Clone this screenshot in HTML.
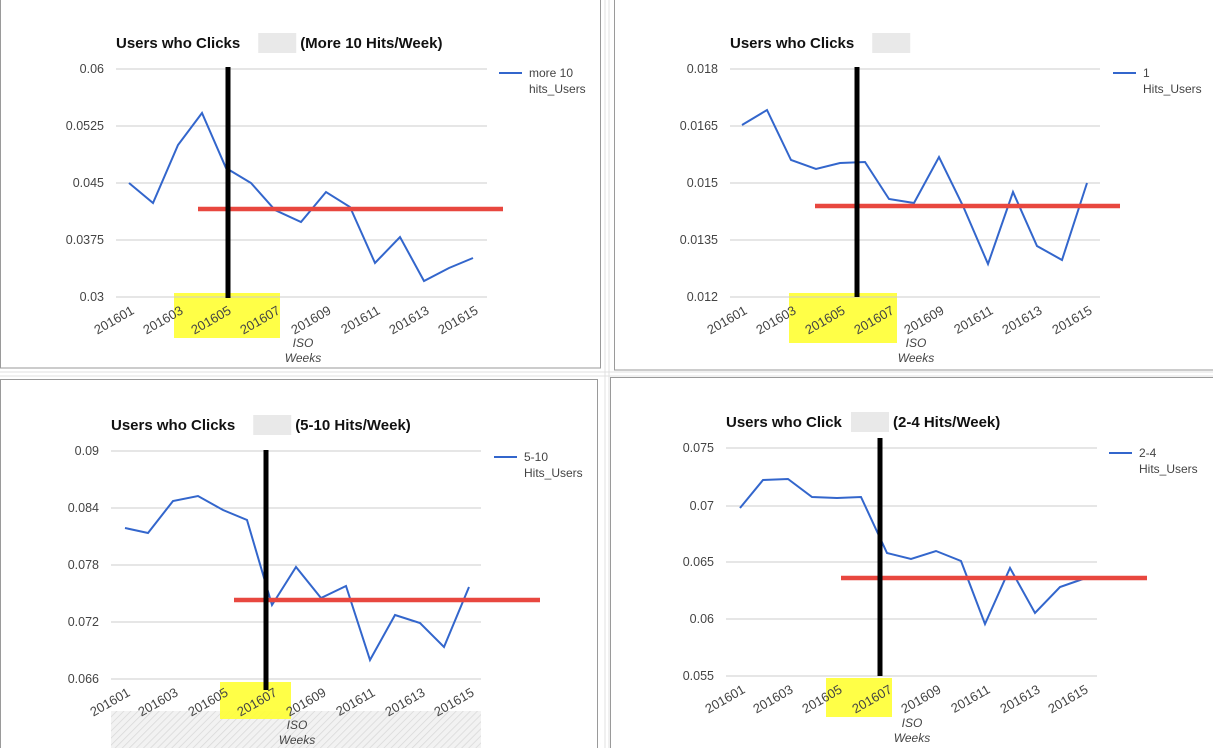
<!DOCTYPE html>
<html><head><meta charset="utf-8"><style>
html,body{margin:0;padding:0;background:#fff;}
svg{display:block;font-family:"Liberation Sans",Arial,sans-serif;}
</style></head><body>
<svg id="s" width="1213" height="748" viewBox="0 0 1213 748" xmlns="http://www.w3.org/2000/svg">
<defs>
<pattern id="hatch" width="5" height="5" patternUnits="userSpaceOnUse" patternTransform="rotate(45)">
<rect width="5" height="5" fill="#f2f2f2"/><line x1="0" y1="0" x2="0" y2="5" stroke="#d8d8d8" stroke-width="1.5"/>
</pattern>
</defs>
<rect width="1213" height="748" fill="#fff"/>
<g stroke="#e0e0e0" stroke-width="1">
<line x1="0" y1="372" x2="1213" y2="372"/><line x1="0" y1="376" x2="1213" y2="376"/>
<line x1="605" y1="0" x2="605" y2="748"/><line x1="609" y1="0" x2="609" y2="748"/>
</g>
<rect x="0.5" y="-1" width="600" height="369" fill="#fff" stroke="#9a9a9a"/>
<rect x="614.5" y="-1" width="600" height="371" fill="#fff" stroke="#9a9a9a"/>
<rect x="0.5" y="379.5" width="597" height="370" fill="#fff" stroke="#9a9a9a"/>
<rect x="610.5" y="377.5" width="604" height="372" fill="#fff" stroke="#9a9a9a"/>
<g id="g"></g>
</svg>
<script>
var C=[
{t:"Users who Clicks ",t2:"(More 10 Hits/Week)",tx:116,ty:48,gx0:116,gx1:487,gy:[69,126,183,240,297],yl:["0.06","0.0525","0.045","0.0375","0.03"],
 px:[129,153,178,202,226,251,275,301,326,350,375,400,424,449,473],py:[183,203,145,113,168,183,210,222,192,207,263,237,281,268,258],
 red:[198,503,209],blk:[228,67,298],yel:[174,293,106,45],leg:[499,73,"more 10","hits_Users"],iso:[303,347]},
{t:"Users who Clicks ",t2:"",tx:730,ty:48,gx0:730,gx1:1100,gy:[69,126,183,240,297],yl:["0.018","0.0165","0.015","0.0135","0.012"],
 px:[742,767,791,816,840,865,889,914,939,963,988,1013,1037,1062,1087],py:[125,110,160,169,163,162,199,203,157,206,264,192,246,260,183],
 red:[815,1120,206],blk:[857,67,297],yel:[789,293,108,50],leg:[1113,73,"1","Hits_Users"],iso:[916,347]},
{t:"Users who Clicks ",t2:"(5-10 Hits/Week)",tx:111,ty:430,gx0:111,gx1:481,gy:[451,508,565,622,679],yl:["0.09","0.084","0.078","0.072","0.066"],
 px:[125,148,173,198,223,247,272,296,321,346,370,395,420,444,469],py:[528,533,501,496,510,520,605,567,598,586,660,615,623,647,587],
 red:[234,540,600],blk:[266,450,690],yel:[220,682,71,37],leg:[494,457,"5-10","Hits_Users"],iso:[297,729],hatch:1},
{t:"Users who Click",t2:"(2-4 Hits/Week)",tx:726,ty:427,gx0:726,gx1:1097,gy:[448,506,562,619,676],yl:["0.075","0.07","0.065","0.06","0.055"],
 px:[740,763,788,812,837,861,887,911,936,961,985,1010,1035,1060,1083],py:[508,480,479,497,498,497,553,559,551,561,624,568,613,587,579],
 red:[841,1147,578],blk:[880,438,676],yel:[826,678,66,39],leg:[1109,453,"2-4","Hits_Users"],iso:[912,727]}
];
var h="";
C.forEach(function(c){
 var base=c.gy[4];
 if(c.hatch) h+='<rect x="'+c.gx0+'" y="711" width="'+(c.gx1-c.gx0)+'" height="40" fill="url(#hatch)"/>';
 h+='<rect x="'+c.yel[0]+'" y="'+c.yel[1]+'" width="'+c.yel[2]+'" height="'+c.yel[3]+'" fill="#ffff33" opacity="0.9"/>';
 c.gy.forEach(function(y,i){
  h+='<line x1="'+c.gx0+'" y1="'+y+'" x2="'+c.gx1+'" y2="'+y+'" stroke="#cccccc" stroke-width="1"/>';
  h+='<text x="'+(c.gx0-12)+'" y="'+(y+4)+'" text-anchor="end" font-size="12.5" fill="#444">'+c.yl[i]+'</text>';
 });
 var tw=c.t.length*8.6;
 h+='<text x="'+c.tx+'" y="'+c.ty+'" font-size="15" font-weight="bold" fill="#111">'+c.t+'</text>';
 h+='<rect x="'+(c.tx+tw-4)+'" y="'+(c.ty-15)+'" width="38" height="20" fill="#d4d4d4" opacity="0.5"/>';
 if(c.t2) h+='<text x="'+(c.tx+tw+38)+'" y="'+c.ty+'" font-size="15" font-weight="bold" fill="#111">'+c.t2+'</text>';
 var pts=c.px.map(function(x,i){return x+","+c.py[i];}).join(" ");
 h+='<polyline points="'+pts+'" fill="none" stroke="#3366cc" stroke-width="2"/>';
 for(var i=0;i<15;i+=2){
  var x=c.px[i]+6, y=base+16;
  h+='<text transform="translate('+x+','+y+') rotate(-30)" text-anchor="end" font-size="13" fill="#444">'+(201601+i)+'</text>';
 }
 h+='<text x="'+c.iso[0]+'" y="'+c.iso[1]+'" text-anchor="middle" font-size="12" font-style="italic" fill="#444">ISO</text>';
 h+='<text x="'+c.iso[0]+'" y="'+(c.iso[1]+15)+'" text-anchor="middle" font-size="12" font-style="italic" fill="#444">Weeks</text>';
 h+='<line x1="'+c.leg[0]+'" y1="'+c.leg[1]+'" x2="'+(c.leg[0]+23)+'" y2="'+c.leg[1]+'" stroke="#3366cc" stroke-width="2"/>';
 h+='<text x="'+(c.leg[0]+30)+'" y="'+(c.leg[1]+4)+'" font-size="12" fill="#444">'+c.leg[2]+'</text>';
 h+='<text x="'+(c.leg[0]+30)+'" y="'+(c.leg[1]+20)+'" font-size="12" fill="#444">'+c.leg[3]+'</text>';
 h+='<line x1="'+c.red[0]+'" y1="'+c.red[2]+'" x2="'+c.red[1]+'" y2="'+c.red[2]+'" stroke="#e8473f" stroke-width="4.5"/>';
 h+='<line x1="'+c.blk[0]+'" y1="'+c.blk[1]+'" x2="'+c.blk[0]+'" y2="'+c.blk[2]+'" stroke="#000" stroke-width="5"/>';
});
document.getElementById("g").innerHTML=h;
</script>
</body></html>
